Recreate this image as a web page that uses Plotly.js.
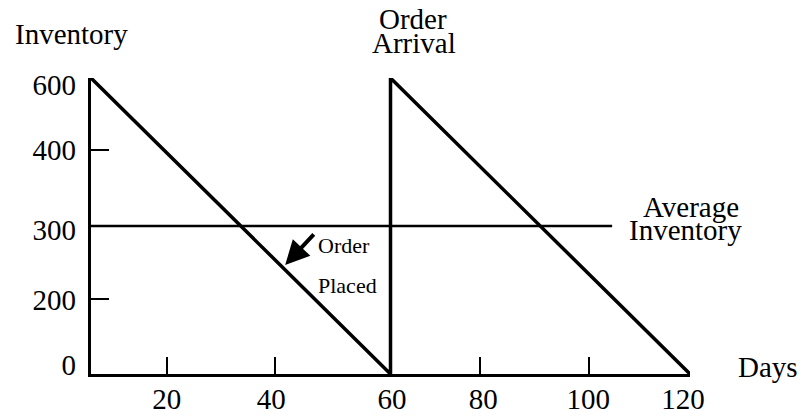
<!DOCTYPE html>
<html>
<head>
<meta charset="utf-8">
<script src="https://cdn.plot.ly/plotly-3.0.1.min.js"></script>
<style>html,body{margin:0;padding:0;background:#fff;}#chart{width:809px;height:419px;}</style>
</head>
<body>
<div id="chart"></div>
<script>
// Inventory sawtooth (days, units)
var days = [0, 60, 60, 120];
var inventory = [600, 0, 600, 0];
// Average inventory line
var avgDays = [0, 104.4];
var avgInventory = [300, 300];

// Tick labels (placed where the schematic prints them)
var xTickText = ["20", "40", "60", "80", "100", "120"];
var xLabelPos = [15.2, 36.1, 60.3, 78.6, 99.6, 118.6];
var xTickMarkPos = [15.2, 36.9, 77.9, 99.8];
var yTickText = ["0", "200", "300", "400", "600"];
var yLabelPos = [18, 150, 292, 454, 586];
var yTickMarkPos = [152, 454];

var serif = "Liberation Serif, Times New Roman, serif";

var traces = [
  {x: days, y: inventory, mode: "lines", line: {color: "#000", width: 3.5}, cliponaxis: false, hoverinfo: "skip", showlegend: false},
  {x: avgDays, y: avgInventory, mode: "lines", line: {color: "#000", width: 2.5}, cliponaxis: false, hoverinfo: "skip", showlegend: false},
  {x: [0], y: [0], xaxis: "x2", yaxis: "y2", mode: "markers", marker: {opacity: 0}, hoverinfo: "skip", showlegend: false}
];

// annotation positions in paper fractions of the plot area
var ann = [
  {text: "Inventory", x: -0.032, y: 1.148, fs: 29},
  {text: "Order", x: 0.5375, y: 1.198, fs: 29},
  {text: "Arrival", x: 0.539, y: 1.118, fs: 29},
  {text: "Average", x: 1.002, y: 0.563, fs: 29},
  {text: "Inventory", x: 0.993, y: 0.486, fs: 29},
  {text: "Days", x: 1.13, y: 0.025, fs: 29},
  {text: "Order", x: 0.4225, y: 0.433, fs: 22},
  {text: "Placed", x: 0.4275, y: 0.30, fs: 22}
].map(function(a){
  return {text: a.text, x: a.x, y: a.y, xref: "paper", yref: "paper", showarrow: false,
          xanchor: "center", yanchor: "middle", font: {family: serif, size: a.fs, color: "#000"}};
});
ann.push({text: "", x: 38.9, y: 221, xref: "x", yref: "y", showarrow: true,
          ax: 30, ay: -32, arrowhead: 2, arrowsize: 1.2, arrowwidth: 4, arrowcolor: "#000"});

var layout = {
  width: 809, height: 419,
  margin: {l: 91, r: 119, t: 78, b: 45},
  paper_bgcolor: "#fff", plot_bgcolor: "#fff",
  showlegend: false,
  xaxis: {range: [0, 120], showgrid: false, zeroline: false, showline: true, linecolor: "#000", linewidth: 3,
          tickmode: "array", tickvals: xTickMarkPos, ticktext: xTickMarkPos.map(function(){return "";}),
          ticks: "inside", ticklen: 17, tickwidth: 2.5, tickcolor: "#000", showticklabels: false, fixedrange: true},
  yaxis: {range: [0, 600], showgrid: false, zeroline: false, showline: true, linecolor: "#000", linewidth: 3,
          tickmode: "array", tickvals: yTickMarkPos, ticktext: yTickMarkPos.map(function(){return "";}),
          ticks: "inside", ticklen: 18, tickwidth: 2.5, tickcolor: "#000", showticklabels: false, fixedrange: true},
  xaxis2: {overlaying: "x", anchor: "y2", side: "bottom", range: [0, 120], showgrid: false, zeroline: false, showline: false,
           tickmode: "array", tickvals: xLabelPos, ticktext: xTickText, ticks: "", ticklabelstandoff: 5,
           tickfont: {family: serif, size: 29, color: "#000"}, fixedrange: true},
  yaxis2: {overlaying: "y", anchor: "x2", side: "left", range: [0, 600], showgrid: false, zeroline: false, showline: false,
           tickmode: "array", tickvals: yLabelPos, ticktext: yTickText, ticks: "", ticklabelstandoff: 14,
           tickfont: {family: serif, size: 29, color: "#000"}, fixedrange: true},
  annotations: ann
};

Plotly.newPlot("chart", traces, layout, {displayModeBar: false, staticPlot: true});
</script>
</body>
</html>
